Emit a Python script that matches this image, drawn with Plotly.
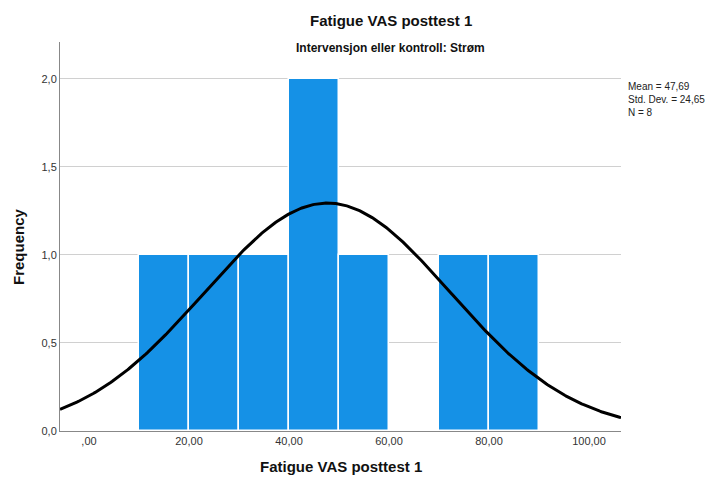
import numpy as np
import plotly.graph_objects as go

bin_left = [10, 20, 30, 40, 50, 60, 70, 80]
counts = [1, 1, 1, 2, 1, 0, 1, 1]
bin_width = 10
mean_val = 47.69
sd_val = 24.65
n_val = 8
x_ticks = [0, 20, 40, 60, 80, 100]
x_tick_text = [",00", "20,00", "40,00", "60,00", "80,00", "100,00"]
y_ticks = [0, 0.5, 1.0, 1.5, 2.0]
y_tick_text = ["0,0", "0,5", "1,0", "1,5", "2,0"]

x_range = [-5.8, 106.4]
y_range = [0, 2.21]

FONT = "Liberation Sans, Arial, sans-serif"
W, H = 728, 479
ML, MR, MT, MB = 60, 107, 42, 48
pw = W - ML - MR
ph = H - MT - MB


def px(x):
    return (x - ML) / pw


def py(y):
    return (H - MB - y) / ph


fig = go.Figure()
fig.add_trace(go.Bar(
    x=[b + bin_width / 2 for b in bin_left],
    y=counts,
    width=bin_width,
    marker=dict(color="#1591E6", line=dict(color="white", width=1.5)),
    hoverinfo="skip",
))

xs = np.linspace(x_range[0], x_range[1], 400)
ys = n_val * bin_width * np.exp(-0.5 * ((xs - mean_val) / sd_val) ** 2) / (sd_val * np.sqrt(2 * np.pi))
fig.add_trace(go.Scatter(x=xs, y=ys, mode="lines", line=dict(color="black", width=3), hoverinfo="skip"))

ann_common = dict(xref="paper", yref="paper", showarrow=False, xanchor="center", yanchor="middle")

fig.update_layout(
    width=W, height=H,
    margin=dict(l=ML, r=MR, t=MT, b=MB, autoexpand=False),
    paper_bgcolor="white", plot_bgcolor="white",
    showlegend=False,
    bargap=0,
    font=dict(family=FONT, color="#222"),
    xaxis=dict(
        range=x_range, tickvals=x_ticks, ticktext=x_tick_text,
        showgrid=False, zeroline=False, showline=True, linecolor="#888", linewidth=1,
        ticks="", tickfont=dict(size=11, color="#333"), automargin=False,
    ),
    yaxis=dict(
        range=y_range, tickvals=y_ticks, ticktext=y_tick_text,
        showgrid=True, gridcolor="#D0D0D0", gridwidth=1, zeroline=False,
        showline=True, linecolor="#888", linewidth=1,
        ticks="", tickfont=dict(size=11, color="#333"), automargin=False,
    ),
    annotations=[
        dict(text="<b>Fatigue VAS posttest 1</b>", x=px(391), y=py(20),
             font=dict(size=15, color="#111"), **ann_common),
        dict(text="<b>Intervensjon eller kontroll: Strøm</b>", x=px(390), y=py(48),
             font=dict(size=12, color="#111"), **ann_common),
        dict(text="<b>Fatigue VAS posttest 1</b>", x=px(341), y=py(466),
             font=dict(size=15, color="#111"), **ann_common),
        dict(text="<b>Frequency</b>", x=px(18), y=py(247), textangle=-90,
             font=dict(size=15, color="#111"), **ann_common),
        dict(text="Mean = 47,69<br>Std. Dev. = 24,65<br>N = 8", x=px(626), y=py(79),
             xref="paper", yref="paper", showarrow=False, align="left", xanchor="left", yanchor="top",
             font=dict(size=10, color="#222")),
    ],
)

fig.write_html("out.html")
